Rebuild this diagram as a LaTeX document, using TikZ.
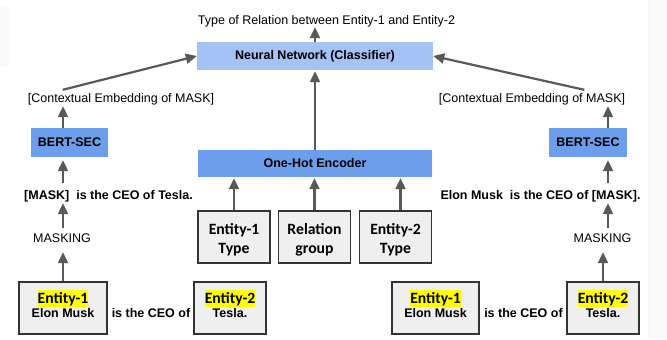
\documentclass[tikz,border=0pt]{standalone}
\usepackage{fontspec}
\setmainfont{Liberation Sans}
\newfontfamily\calfont{Carlito}
\usetikzlibrary{arrows.meta,calc}
\definecolor{nnblue}{HTML}{A4C2F4}
\definecolor{dblue}{HTML}{6D9EEB}
\definecolor{gboxfill}{HTML}{EFEFEF}
\definecolor{arrgray}{HTML}{595959}
\definecolor{bordgray}{HTML}{333333}
\definecolor{hlyellow}{HTML}{FFFF00}
\newcommand{\hlent}[1]{{\setlength{\fboxsep}{0pt}\colorbox{hlyellow}{\rule[-4bp]{0pt}{17bp}\calfont\fontsize{15.7bp}{19bp}\selectfont\bfseries #1}}}
\begin{document}
\begin{tikzpicture}[x=1bp,y=-1bp,
  txt/.style={inner sep=0pt, text height=9bp, text depth=2.5bp, font=\fontsize{12.5bp}{14.5bp}\selectfont},
  btxt/.style={txt, font=\fontsize{12.5bp}{14.5bp}\selectfont\bfseries},
  bluebox/.style={draw=none, fill=dblue, inner sep=0pt, font=\fontsize{12.5bp}{14.5bp}\selectfont\bfseries},
  typebox/.style={draw=bordgray, line width=1.2bp, fill=gboxfill, minimum width=72bp, minimum height=52bp, inner sep=0pt, align=center, font=\calfont\fontsize{15.7bp}{19bp}\selectfont\bfseries},
  entbox/.style={draw=bordgray, line width=1.2bp, fill=gboxfill, minimum height=52bp, inner sep=0pt, align=center, font=\fontsize{12.5bp}{14.5bp}\selectfont\bfseries},
  arr/.style={draw=arrgray, line width=2.2bp, -{Triangle[length=11bp,width=10bp]}},
]
\useasboundingbox (0,0) rectangle (667,339);
% faint screenshot margins
\fill[black!2] (648,0) rectangle (667,339);
\draw[black!4, line width=0.8bp] (648,0) -- (648,339);
\fill[black!2] (0,7) rectangle (9,67);

% axis helpers
\coordinate (axL) at (63,0);
\coordinate (axR) at (608,0);

% top
\node[txt] (title) at (326.5,21.25) {Type of Relation between Entity-1 and Entity-2};
\node[bluebox, fill=nnblue, minimum width=236bp, minimum height=28bp] (nn) at (315,56) {Neural Network (Classifier)};

% labels
\node[txt] (lblL) at (121,99.25) {[Contextual Embedding of MASK]};
\node[txt] (lblR) at (532,99.25) {[Contextual Embedding of MASK]};

% BERT
\node[bluebox, minimum width=77bp, minimum height=29bp] (bertL) at (69.5,142.5) {BERT-SEC};
\node[bluebox, minimum width=78bp, minimum height=29bp] (bertR) at (588,142.5) {BERT-SEC};

% one-hot
\node[bluebox, minimum width=234bp, minimum height=27bp] (oh) at (315,163.5) {One-Hot Encoder};

% sentences
\node[btxt] (sentL) at (108.5,196.25) {[MASK]\ \ is the CEO of Tesla.};
\node[btxt] (sentR) at (540.5,196.25) {Elon Musk\ \ is the CEO of [MASK].};

% masking
\node[txt] (maskL) at (62,239.25) {MASKING};
\node[txt] (maskR) at (602.5,239.25) {MASKING};

% type boxes
\node[typebox] (e1t) at (234,237) {\rule{0pt}{16.5bp}Entity-1\\Type};
\node[typebox] (rg) at (314.5,237) {\rule{0pt}{16.5bp}Relation\\group};
\node[typebox] (e2t) at (395.5,237) {\rule{0pt}{16.5bp}Entity-2\\Type};
\coordinate (e2ta) at ([xshift=5bp]e2t.north);

% entity boxes
\node[entbox, minimum width=88bp] (e1L) at (63,308) {\hlent{Entity-1}\\Elon Musk\rule[-8.5bp]{0pt}{0pt}};
\node[entbox, minimum width=72bp] (e2L) at (230,308) {\hlent{Entity-2}\\Tesla.\rule[-8.5bp]{0pt}{0pt}};
\node[entbox, minimum width=87bp] (e1R) at (435.5,308) {\hlent{Entity-1}\\Elon Musk\rule[-8.5bp]{0pt}{0pt}};
\node[entbox, minimum width=72bp] (e2R) at (603,308) {\hlent{Entity-2}\\Tesla.\rule[-8.5bp]{0pt}{0pt}};

\node[btxt] (ceoL) at (151,314.25) {is the CEO of};
\node[btxt] (ceoR) at (523.5,314.25) {is the CEO of};

% arrows: top
\draw[arr] (nn.north) -- (title.south -| nn.north);
\draw[arr] ([xshift=35bp,yshift=3.5bp]lblL.north west) -- (nn.west);
\draw[arr] ([xshift=-41bp,yshift=3.5bp]lblR.north east) -- (nn.east);
\draw[arr, shorten >=1bp] (oh.north) -- (nn.south);

% left column
\draw[arr, shorten >=1bp] (bertL.north -| axL) -- (lblL.south -| axL);
\draw[arr, shorten <=7.5bp, shorten >=3bp] (sentL.north -| axL) -- (bertL.south -| axL);
\draw[arr, shorten <=5.5bp, shorten >=1bp] (maskL.north -| axL) -- (sentL.south -| axL);
\draw[arr, shorten >=7bp] (e1L.north) -- (maskL.south -| e1L.north);

% right column
\draw[arr, shorten >=1bp] (bertR.north -| axR) -- (lblR.south -| axR);
\draw[arr, shorten <=7.5bp, shorten >=3bp] (sentR.north -| axR) -- (bertR.south -| axR);
\draw[arr, shorten <=5.5bp, shorten >=1bp] (maskR.north -| axR) -- (sentR.south -| axR);
\draw[arr, shorten >=7bp] (e2R.north) -- (maskR.south -| e2R.north);

% type boxes to encoder
\draw[arr, shorten >=1bp] (e1t.north) -- (oh.south -| e1t.north);
\draw[arr, shorten >=1bp] (rg.north) -- (oh.south -| rg.north);
\draw[arr, shorten >=1bp] (e2ta) -- (oh.south -| e2ta);
\end{tikzpicture}
\end{document}
